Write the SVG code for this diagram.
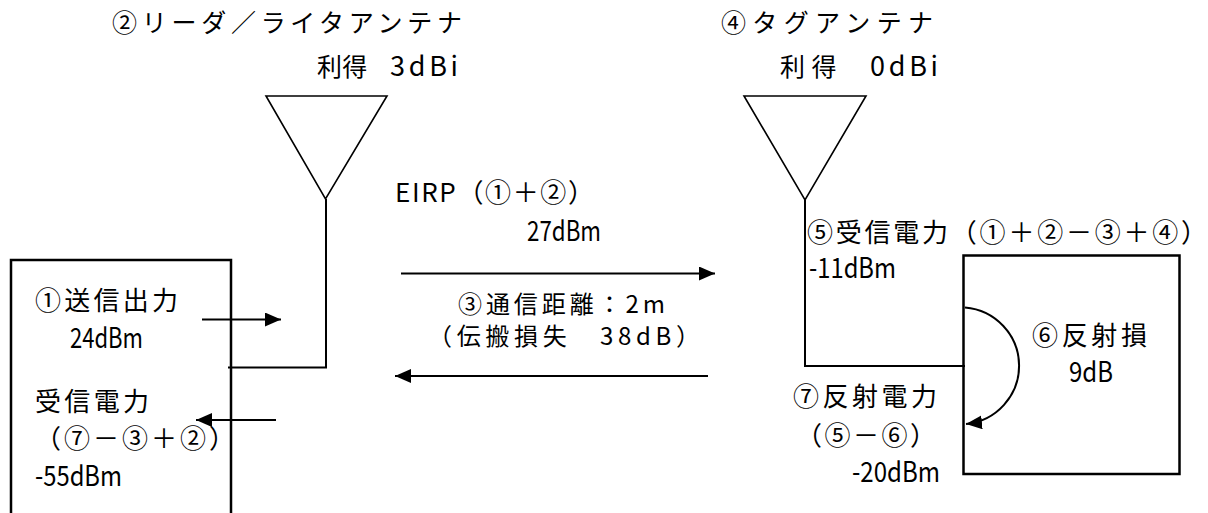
<svg xmlns="http://www.w3.org/2000/svg" width="1208" height="513" viewBox="0 0 1208 513">
<style>
text{font-family:"Noto Sans CJK JP","Noto Sans CJK SC",sans-serif;fill:#000}
.t{font-size:25px}
.m{font-size:26px}
.s{font-size:24px}
.n{font-size:28px}
.a{font-size:27px}
.box{fill:none;stroke:#000;stroke-width:2.5}
.ant{fill:#fff;stroke:#000;stroke-width:1.6;stroke-linejoin:miter}
.ln{fill:none;stroke:#000;stroke-width:2}
</style>
<defs>
<marker id="ah" markerUnits="userSpaceOnUse" markerWidth="17" markerHeight="15" refX="16" refY="7" orient="auto">
<path d="M0,0 L16,7 L0,14 z" fill="#000"/>
</marker>
</defs>
<rect width="1208" height="513" fill="#fff"/>

<g id="reader-antenna">
<polygon class="ant" points="266,96 387,96 325.5,199"/>
<text class="t" x="112" y="31.5" textLength="350" lengthAdjust="spacing">②リーダ／ライタアンテナ</text>
<text class="t" y="75.5"><tspan x="317" textLength="56" lengthAdjust="spacing">利得 </tspan><tspan x="390" class="a" textLength="68" lengthAdjust="spacing">3dBi</tspan></text>
</g>

<g id="reader">
<polyline class="box" points="11,514 11,260 231,260 231,514"/>
<text class="m" x="35" y="310" textLength="143" lengthAdjust="spacing">①送信出力</text>
<text class="n" x="70" y="348" textLength="73" lengthAdjust="spacingAndGlyphs">24dBm</text>
<text class="m" x="35" y="410.5" textLength="114" lengthAdjust="spacing">受信電力</text>
<text class="m" x="35" y="448" textLength="200" lengthAdjust="spacing">（⑦－③＋②）</text>
<text class="n" x="35" y="486" textLength="87" lengthAdjust="spacingAndGlyphs">-55dBm</text>
</g>

<g id="tag-antenna">
<polygon class="ant" points="744,96 866,96 805,200"/>
<text class="t" x="721" y="31.5" textLength="212" lengthAdjust="spacing">④タグアンテナ</text>
<text class="t" y="75.5"><tspan x="780" textLength="88" lengthAdjust="spacing">利得　</tspan><tspan x="870" class="a" textLength="68" lengthAdjust="spacing">0dBi</tspan></text>
</g>

<g id="tag">
<rect class="box" x="963.5" y="255.5" width="216" height="218.5"/>
<text class="m" x="1032" y="345" textLength="115" lengthAdjust="spacing">⑥反射損</text>
<text class="n" x="1069" y="382" textLength="44" lengthAdjust="spacingAndGlyphs">9dB</text>
</g>

<g id="labels">
<text class="m" x="395" y="202" textLength="199" lengthAdjust="spacing">EIRP（①＋②）</text>
<text class="n" x="527" y="241" textLength="74" lengthAdjust="spacingAndGlyphs">27dBm</text>
<text class="s" x="458" y="312.5" textLength="207" lengthAdjust="spacing">③通信距離：2m</text>
<text class="s" x="428" y="345" textLength="272" lengthAdjust="spacing">（伝搬損失　38dB）</text>
<text class="m" x="807" y="242" textLength="400" lengthAdjust="spacing">⑤受信電力（①＋②－③＋④）</text>
<text class="n" x="809" y="278" textLength="87" lengthAdjust="spacingAndGlyphs">-11dBm</text>
<text class="m" x="793" y="406" textLength="144" lengthAdjust="spacing">⑦反射電力</text>
<text class="m" x="796" y="445" textLength="140" lengthAdjust="spacing">（⑤－⑥）</text>
<text class="n" x="852" y="482" textLength="88" lengthAdjust="spacingAndGlyphs">-20dBm</text>
</g>

<g id="connectors">
<polyline class="ln" points="326,199 326,367.5 228,367.5"/>
<polyline class="ln" points="805,200 805,366 965,366"/>
<line class="ln" x1="202" y1="319.5" x2="281" y2="319.5" marker-end="url(#ah)"/>
<line class="ln" x1="276" y1="420" x2="196" y2="420" marker-end="url(#ah)"/>
<line class="ln" x1="401" y1="273.5" x2="715" y2="273.5" marker-end="url(#ah)"/>
<line class="ln" x1="708" y1="376" x2="395" y2="376" marker-end="url(#ah)"/>
<path class="ln" d="M965,307.5 A59,58.5 0 0 1 966,424" marker-end="url(#ah)"/>
</g>
</svg>
